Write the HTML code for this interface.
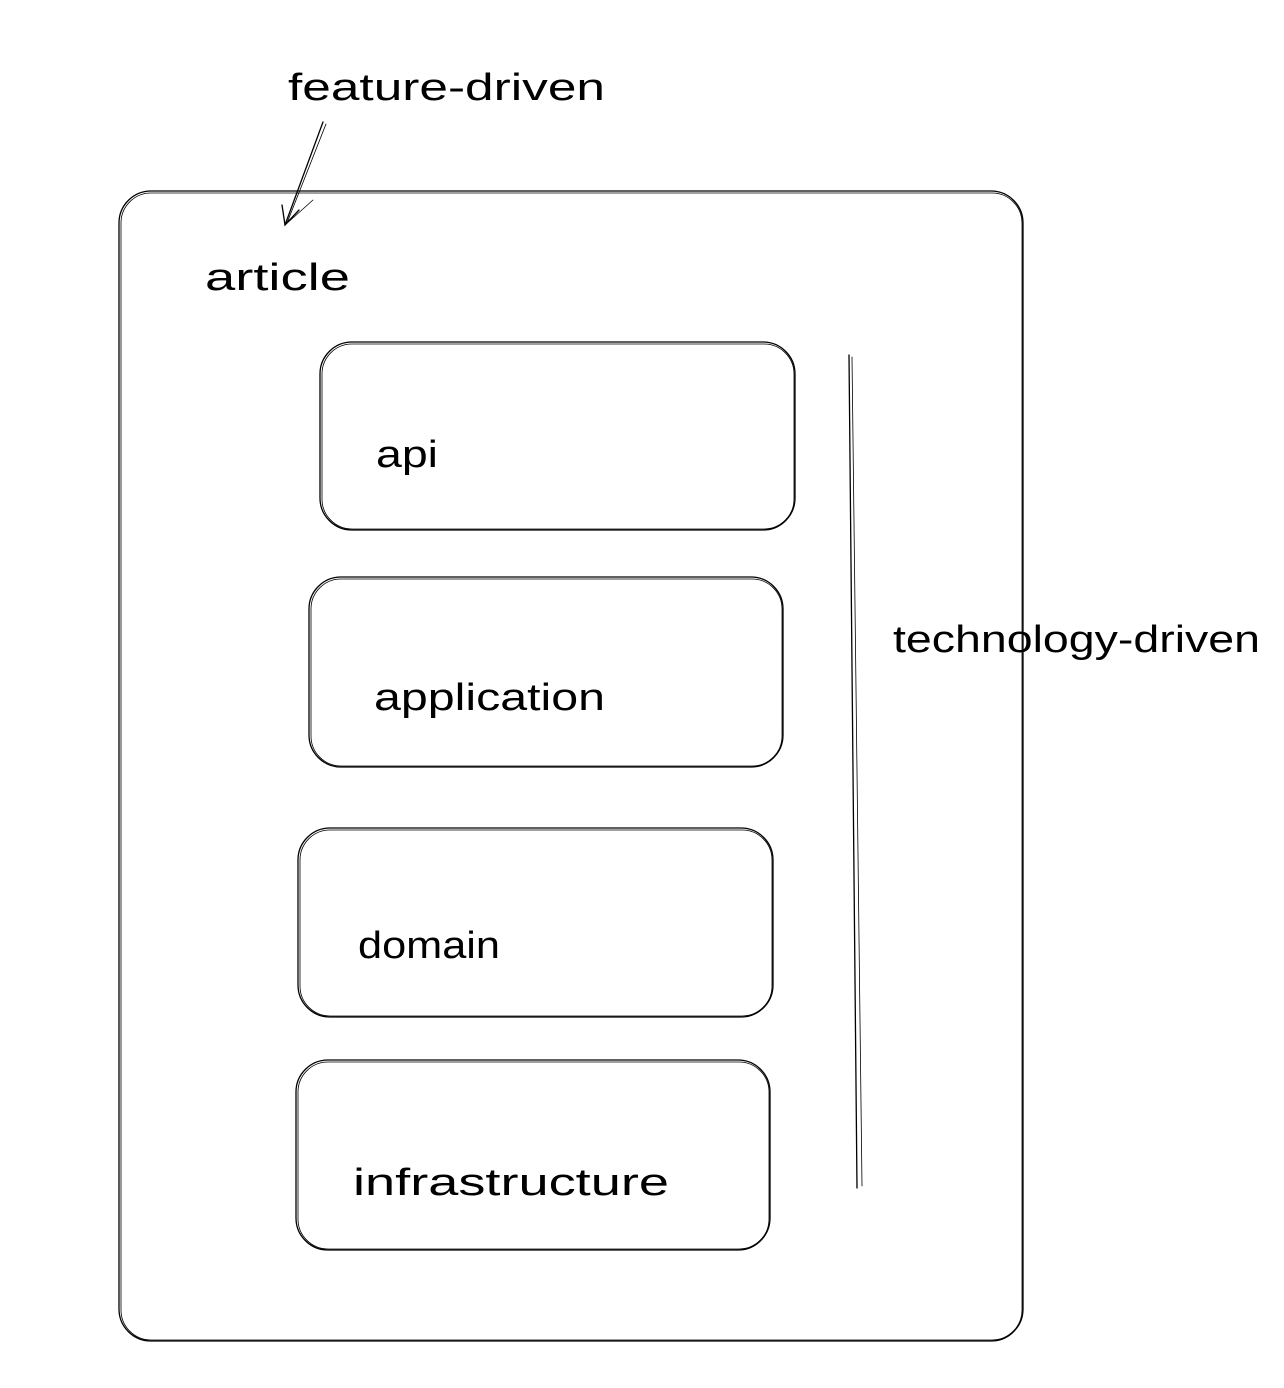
<!DOCTYPE html>
<html><head><meta charset="utf-8"><style>
html,body{margin:0;padding:0;background:#fff;}
svg{display:block}
text{font-family:"Liberation Sans",sans-serif;font-size:38px;fill:#000;}
</style></head><body>
<svg width="1284" height="1388" viewBox="0 0 1284 1388" xmlns="http://www.w3.org/2000/svg">
<g fill="none" stroke="#000" stroke-width="1.3" stroke-linecap="round">
<!-- outer -->
<rect x="119" y="191" width="904" height="1150" rx="32"/>
<rect x="121" y="193" width="901" height="1147" rx="30" stroke-width="0.8"/>
<!-- boxes -->
<rect x="320" y="342" width="475" height="188" rx="32"/>
<rect x="322" y="344" width="472" height="185" rx="30" stroke-width="0.8"/>
<rect x="309" y="577" width="474" height="190" rx="32"/>
<rect x="311" y="579" width="471" height="187" rx="30" stroke-width="0.8"/>
<rect x="298" y="828" width="475" height="189" rx="32"/>
<rect x="300" y="830" width="472" height="186" rx="30" stroke-width="0.8"/>
<rect x="296" y="1060" width="474" height="190" rx="32"/>
<rect x="298" y="1062" width="471" height="187" rx="30" stroke-width="0.8"/>
<!-- vertical line -->
<path d="M849 355 L857 1188"/>
<path d="M852 357 L862 1186" stroke-width="0.8"/>
<!-- arrow -->
<path d="M323 122 L285 225"/>
<path d="M326 124 L287 223" stroke-width="0.8"/>
<path d="M282 205 L285 225 L299 210"/>
<path d="M285 225 L313 200" stroke-width="0.8"/>
</g>
<text x="288" y="100" textLength="317" lengthAdjust="spacingAndGlyphs">feature-driven</text>
<text x="205" y="290" textLength="145" lengthAdjust="spacingAndGlyphs">article</text>
<text x="376" y="467" textLength="62" lengthAdjust="spacingAndGlyphs">api</text>
<text x="374" y="710" textLength="231" lengthAdjust="spacingAndGlyphs">application</text>
<text x="358" y="958" textLength="142" lengthAdjust="spacingAndGlyphs">domain</text>
<text x="353" y="1195" textLength="316" lengthAdjust="spacingAndGlyphs">infrastructure</text>
<text x="893" y="652" textLength="367" lengthAdjust="spacingAndGlyphs">technology-driven</text>
</svg>
</body></html>
